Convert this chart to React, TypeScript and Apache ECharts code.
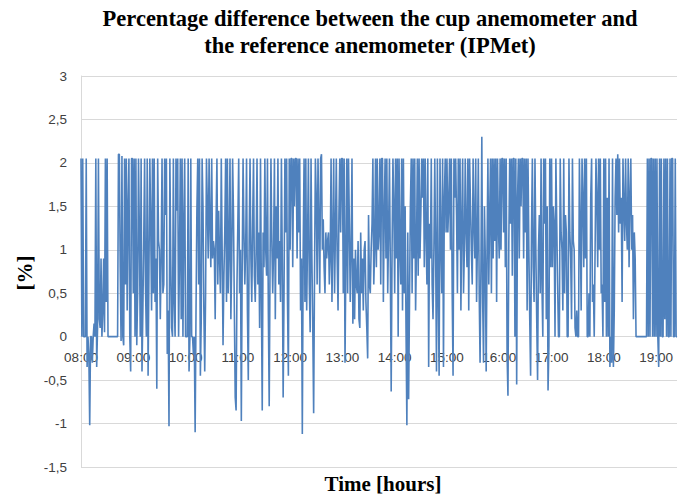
import React, { useEffect, useRef } from "react";
import * as echarts from "echarts";

// Time tick labels (one per hour, starting 08:00)
const hourLabels = ["08:00", "09:00", "10:00", "11:00", "12:00", "13:00", "14:00", "15:00", "16:00", "17:00", "18:00", "19:00"];
const samplesPerHour = 60;

// Percentage difference [%], one sample per minute, grouped by hour
const h08 = [
  2.05, 0, 2.05, 0, 0, 0, 2.05, -0.35, 0, -0.2,
  -1.02, 0, 0, -0.3, 0, 0.15, 0, 2.05, -0.35, 0.1,
  2.05, 0.2, 0.1, 0.9, 0, 0.3, 0.9, 0.05, 2.05, 0.4,
  2.05, 0, 0, 0, 0, 0, 0, 0, 0, 0,
  0, 0, 0, 2.1, 2.1, 0.8, -0.05, 2.08, 0, -0.1,
  2.05, 0.6, 2.05, 0.3, 1.5, 2.05, 0, -0.4, 2.05, 2.05,
];
const h09 = [
  0.5, 2.05, 0, 2.05, -0.1, 0.5, 2.05, 1.2, 0, 2.05,
  -0.4, 0.3, 1.1, 2.05, 0.6, 0, 2.05, -0.45, 0.8, 2.05,
  1.3, 0.3, 2.05, 0.5, 2.05, 0.4, 0.9, -0.6, 2.05, 1.1,
  1.0, 0.2, 0.9, 2.05, 0.5, 0.6, 2.05, 1.4, 2.05, -0.2,
  0.3, -1.03, 2.05, 0.9, 0.1, 0, 2.05, 0.4, 0, 2.05,
  1.45, 2.05, 0, 0.9, 2.05, 0.2, 2.05, 0, 1.3, 2.05,
];
const h10 = [
  0, 0, 0, 2.05, -0.4, 0, 2.05, 0, 0, -0.2,
  0, -1.1, 0.3, 1.45, 2.05, 0.6, 2.05, -0.45, 0.2, 2.05,
  1.5, 0.3, -0.4, 0.5, 2.05, 1.5, 0.9, 2.05, 1.3, 0.8,
  2.05, 0.9, 1.1, 1.0, 0.2, 1.3, 2.05, 0.6, 1.45, 0.9,
  0.5, 2.05, 1.0, -0.1, 0.7, 1.2, 2.05, 0.4, 2.05, 0.5,
  1.0, 2.05, 0.2, 0.9, 2.05, 1.4, 0.3, -0.7, -0.85, 0.6,
];
const h11 = [
  1.3, 2.05, 0.5, 1.0, -0.97, 0.8, 2.05, 1.2, 0.6, 1.0,
  2.05, 0.3, -0.5, 1.1, 2.05, 0.9, 0.4, 1.3, 2.05, 0.7,
  0.4, 1.0, 2.05, 0.6, 1.2, 0.1, 2.05, 0.5, -0.85, 1.2,
  0.8, 2.05, 1.0, 0.7, 2.05, 0.3, -0.8, 0.9, 2.05, 1.1,
  0.5, 1.0, 2.05, 0.2, 1.5, 0.9, 2.05, 0.6, 1.1, 0.4,
  2.05, 0.9, -0.7, 0.5, 2.05, 1.2, 2.05, 0.4, -0.45, 2.05,
];
const h12 = [
  1.0, 2.05, 2.05, 0.8, 2.05, 1.5, 2.05, 2.05, 0.9, 2.05,
  1.2, 2.05, 0.3, 0.9, -1.12, 1.0, 2.05, 0.4, 2.05, 0.3,
  1.1, 2.05, 0.6, 0.05, 2.05, 0.9, 0.1, -0.88, 0.7, 2.05,
  1.6, 0.6, 2.05, 1.3, 0.5, 2.05, 2.1, 1.0, 1.35, 0.8,
  0.5, 1.2, 0.9, 1.1, 1.2, 0.6, 0.9, 2.05, 0.4, 1.1,
  2.05, 0.5, 1.2, 2.05, 0.9, 0.3, 1.4, 2.05, 1.2, 2.05,
];
const h13 = [
  2.05, 0.5, 2.05, -0.3, 0.9, 2.05, 0.5, 2.05, 1.3, 0.4,
  1.0, 2.05, 0.15, 0.9, 0.2, 1.0, 0.6, 0.5, 1.1, 0.2,
  0.1, 1.2, 0.5, 0.9, 0.3, 1.0, 1.1, 0.4, 0.1, -0.25,
  1.4, 0.6, 0.5, 1.0, 1.3, 2.05, 0.6, 1.0, 2.05, 0.8,
  2.05, 1.0, 1.2, 2.05, 0.6, 2.05, 2.05, 0.4, 1.4, 2.05,
  0.9, 2.05, 0.5, 1.2, 2.05, 0.8, -0.63, 1.0, 2.05, 1.5,
];
const h14 = [
  0.5, 2.05, 0.9, 2.05, 0.0, 2.05, 1.0, 0.6, 2.05, 0.3,
  2.05, 0.5, 1.5, 0.1, -1.02, 1.2, -0.72, 0.4, 1.5, 2.05,
  0.5, 2.05, 0.9, 2.05, 0.3, 1.0, 2.05, 0.7, 2.05, 0.9,
  1.4, 2.05, 1.6, 2.05, 0.8, 2.05, 1.2, 0.6, 2.05, -0.35,
  1.3, 0.9, 2.05, 0.6, 0.2, 1.0, 2.05, 1.0, -0.4, 2.05,
  0.5, -0.45, 2.05, 1.1, 0.5, 2.05, -0.35, 1.6, 2.05, 1.2,
];
const h15 = [
  2.05, 1.2, 1.5, 2.05, 1.0, 2.05, 0.5, -0.45, 2.05, 1.6,
  2.05, 1.4, 0.5, 2.05, 1.0, 2.05, 0.3, 1.3, 2.05, 0.5,
  1.0, 2.05, 1.2, 0.8, 2.05, 0.3, 2.05, 1.5, 1.0, 0.6,
  2.05, 1.3, 0.9, 2.05, 0.4, 1.1, 2.05, 0.5, -0.3, 0.8,
  2.3, 0.4, -0.3, 1.5, 0.9, -0.4, 1.0, 2.05, 0.6, 1.4,
  2.05, 0.5, 2.05, 0.9, 2.05, 1.1, 2.05, 0.4, 2.05, 1.3,
];
const h16 = [
  0.9, 2.05, 1.0, 2.05, 2.05, 1.2, 2.05, 0.8, 2.05, -0.2,
  -0.68, 1.1, 2.05, 1.3, 2.05, 0.7, 2.05, 2.05, 0.0, 2.05,
  -0.55, 1.6, 2.05, 0.9, 2.05, 1.5, 2.05, 2.05, 0.9, 2.05,
  1.2, 2.05, 0.3, 2.05, 1.0, 0.2, -0.45, 1.2, 2.05, 0.8,
  0.4, 2.05, 1.0, 0.2, -0.5, 1.0, 1.4, 0.5, 2.05, 0.6,
  0, 2.05, 1.3, 2.05, 0.2, 1.5, -0.62, -0.1, 2.05, 0.8,
];
const h17 = [
  2.05, 0.8, 1.5, 1.3, 0, 2.05, 1.3, 0.6, 0, 0,
  2.05, 1.2, 1.0, 0.3, 2.05, 0.5, 1.4, 1.2, 0, 0,
  2.05, 1.2, 0.9, 0.2, 2.05, 1.1, 1.0, 0.1, 0, 0.3,
  0, 0, 2.05, 1.3, 0.3, 2.05, 1.6, 0.8, 2.05, 0.9,
  2.05, 0, 0, 0.5, 0, 1.6, 2.05, 0.4, 0.6, 0,
  1.0, 2.05, 1.6, 0.8, 2.05, 1.0, 2.05, 0.5, 0.6, 0,
];
const h18 = [
  2.05, 0.4, 2.05, 0, 1.6, 0, 2.05, -0.35, 0, -0.3,
  2.05, -0.35, 0.3, 1.6, 2.05, 1.4, 2.1, 1.2, 2.05, 1.3,
  1.6, 0.4, 2.05, 1.5, 1.1, 2.05, 1.3, 1.0, 2.05, 0.8,
  1.6, 2.05, 1.0, 1.4, 0.2, 1.2, 0.9, 0, 0, 0,
  0, 0, 0, 0, 0, 0, 0, 0, 0, 0,
  2.05, 0, 2.05, 0, 2.05, 2.05, 0, 2.05, 0, 2.05,
];
const h19 = [
  0, 2.05, 0, -0.35, 2.05, 0, 2.05, 0, 0, 2.05,
  0.2, 2.05, 0, 2.05, 0, 0, 2.05, 0, 2.05, 2.05,
  0, 0, 2.05, 0, 0,
];

const diffValues = [...h08, ...h09, ...h10, ...h11, ...h12, ...h13, ...h14, ...h15, ...h16, ...h17, ...h18, ...h19];
// Minute index of every sample (category axis)
const minuteCategories = diffValues.map((_, i) => String(i));

const yMin = -1.5;
const yMax = 3;
const titleText = "Percentage difference between the cup anemometer and\nthe reference anemometer (IPMet)";
const yAxisName = "[%]";
const xAxisName = "Time [hours]";

export default function App() {
  const ref = useRef<HTMLDivElement>(null);
  useEffect(() => {
    if (!ref.current) return;
    const chart = echarts.init(ref.current, null, { renderer: "svg" });
    const gridTop = 76;
    const gridBottom = 32;
    const plotHeight = 499 - gridTop - gridBottom;
    // move the time axis up to the zero line
    const zeroOffset = -plotHeight * (0 - yMin) / (yMax - yMin);
    chart.setOption({
      animation: false,
      backgroundColor: "#ffffff",
      grid: { left: 81, right: 1, top: gridTop, bottom: gridBottom, containLabel: false },
      xAxis: {
        type: "category",
        data: minuteCategories,
        boundaryGap: false,
        position: "bottom",
        offset: zeroOffset,
        axisLine: { show: true, onZero: false, lineStyle: { color: "#D9D9D9" } },
        axisTick: { show: false },
        splitLine: { show: false },
        axisLabel: {
          margin: 14,
          interval: samplesPerHour - 1,
          fontFamily: "Liberation Sans",
          fontSize: 13.5,
          color: "#404040",
          formatter: (_v: string, idx: number) =>
            idx % samplesPerHour === 0 ? hourLabels[idx / samplesPerHour] ?? "" : "",
        },
      },
      yAxis: {
        type: "value",
        min: yMin,
        max: yMax,
        interval: 0.5,
        axisLine: { show: true, onZero: false, lineStyle: { color: "#D9D9D9" } },
        axisTick: { show: false },
        splitLine: { show: true, lineStyle: { color: "#D9D9D9" } },
        axisLabel: {
          margin: 14,
          fontFamily: "Liberation Sans",
          fontSize: 13.5,
          color: "#404040",
          formatter: (v: number) => String(v).replace(".", ","),
        },
      },
      graphic: [
        {
          type: "text",
          x: 370,
          y: 5,
          style: {
            text: titleText,
            fontFamily: "Liberation Serif",
            fontWeight: "bold",
            fontSize: 22.5,
            lineHeight: 27,
            fill: "#000000",
            align: "center",
            verticalAlign: "top",
          },
        },
        {
          type: "text",
          x: 25,
          y: 273,
          rotation: Math.PI / 2,
          style: {
            text: yAxisName,
            fontFamily: "Liberation Serif",
            fontWeight: "bold",
            fontSize: 21,
            fill: "#000000",
            align: "center",
            verticalAlign: "middle",
          },
        },
        {
          type: "text",
          x: 383,
          y: 484,
          style: {
            text: xAxisName,
            fontFamily: "Liberation Serif",
            fontWeight: "bold",
            fontSize: 21,
            fill: "#000000",
            align: "center",
            verticalAlign: "middle",
          },
        },
      ],
      series: [
        {
          type: "line",
          data: diffValues,
          showSymbol: false,
          symbol: "none",
          lineStyle: { color: "#4F81BD", width: 1.6 },
          itemStyle: { color: "#4F81BD" },
        },
      ],
    });
    return () => chart.dispose();
  }, []);
  return <div ref={ref} style={{ position: "absolute", left: 0, top: 0, width: 678, height: 499 }} />;
}
